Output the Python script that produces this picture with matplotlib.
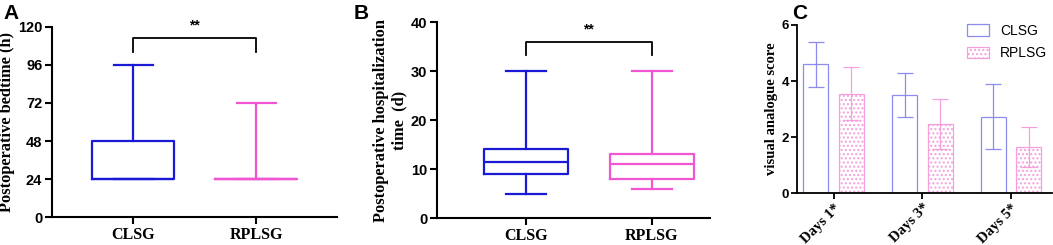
import numpy as np
import matplotlib.pyplot as plt

# ---- data ----
groups = ["CLSG", "RPLSG"]

# panel A: postoperative bedtime (h)
bed_whislo = [24, 24]
bed_q1 = [24, 24]
bed_med = [24, 24]
bed_q3 = [48, 24]
bed_whishi = [96, 72]

# panel B: postoperative hospitalization time (d)
hosp_whislo = [5, 6]
hosp_q1 = [9, 8]
hosp_med = [11.5, 11]
hosp_q3 = [14, 13]
hosp_whishi = [30, 30]

# panel C: visual analogue score
days = ["Days 1*", "Days 3*", "Days 5*"]
vas_clsg = [4.6, 3.5, 2.73]
vas_clsg_sd = [0.8, 0.78, 1.15]
vas_rplsg = [3.55, 2.47, 1.65]
vas_rplsg_sd = [0.95, 0.88, 0.72]

blue = "#1a1ad6"
pink = "#f055d2"
c_blue = "#8c8cf0"
c_pink = "#f5a0dc"

serif = ["Liberation Serif", "DejaVu Serif"]
sans = ["Liberation Sans", "DejaVu Sans"]
plt.rcParams['font.family'] = sans
plt.rcParams['hatch.linewidth'] = 1.0

fig = plt.figure(figsize=(10.53, 2.45), dpi=100)


def box_panel(ax, lo, q1, med, q3, hi, ylim, yticks, ylabel, bracket, star_y, label_x):
    stats = []
    for i in range(len(groups)):
        stats.append(dict(whislo=lo[i], q1=q1[i], med=med[i], q3=q3[i], whishi=hi[i], label=groups[i]))
    for i, col in enumerate([blue, pink]):
        ax.bxp([stats[i]], positions=[i + 1], widths=0.67, showfliers=False,
               boxprops=dict(color=col, lw=1.6),
               medianprops=dict(color=col, lw=1.6),
               whiskerprops=dict(color=col, lw=1.6),
               capprops=dict(color=col, lw=1.6),
               capwidths=0.32)
    ax.set_ylim(*ylim)
    ax.set_yticks(yticks)
    ax.set_xticks([1, 2])
    ax.set_xticklabels(groups, fontfamily=serif, fontweight='bold', fontsize=11.5)
    for lab in ax.get_yticklabels():
        lab.set_fontweight('bold')
        lab.set_fontsize(10.5)
    ax.set_ylabel(ylabel, fontfamily=serif, fontweight='bold', fontsize=11.8)
    ax.yaxis.set_label_coords(label_x, 0.5)
    for s in ['top', 'right']:
        ax.spines[s].set_visible(False)
    for s in ['left', 'bottom']:
        ax.spines[s].set_linewidth(1.5)
    ax.tick_params(width=1.5, length=5, pad=2)
    # significance bracket
    y1, y2 = bracket
    ax.plot([1, 1, 2, 2], [y2, y1, y1, y2], color='black', lw=1.3, clip_on=False)
    ax.text(1.5, star_y, "**", ha='center', va='center', fontsize=10, fontweight='bold', clip_on=False)


# panel A
axA = fig.add_axes([0.0494, 0.114, 0.271, 0.776])
box_panel(axA, bed_whislo, bed_q1, bed_med, bed_q3, bed_whishi, (0, 120),
          [0, 24, 48, 72, 96, 120], "Postoperative bedtime (h)", (113, 104), 121, -0.128)
axA.set_xlim(0.34, 2.66)

# panel B
axB = fig.add_axes([0.415, 0.110, 0.259, 0.800])
box_panel(axB, hosp_whislo, hosp_q1, hosp_med, hosp_q3, hosp_whishi, (0, 40),
          [0, 10, 20, 30, 40], "Postoperative hospitalization\ntime  (d)", (36, 33.3), 38.5, -0.11)
axB.set_xlim(0.294, 2.46)

# panel C
axC = fig.add_axes([0.757, 0.212, 0.242, 0.686])
x = np.arange(len(days))
w = 0.28
axC.bar(x - 0.2, vas_clsg, w, yerr=vas_clsg_sd, facecolor='white', edgecolor=c_blue,
        lw=0.9, ecolor=c_blue, capsize=5.5, error_kw=dict(elinewidth=0.9, capthick=0.9),
        label="CLSG")
axC.bar(x + 0.2, vas_rplsg, w, yerr=vas_rplsg_sd, facecolor='white', edgecolor=c_pink,
        lw=0.9, hatch='....', ecolor=c_pink, capsize=5.5, error_kw=dict(elinewidth=0.9, capthick=0.9),
        label="RPLSG")
axC.set_xlim(-0.41, 2.46)
axC.set_ylim(0, 6)
axC.set_yticks([0, 2, 4, 6])
axC.set_xticks(x)
axC.set_xticklabels(days, rotation=45, ha='right', rotation_mode='anchor',
                    fontfamily=serif, fontweight='bold', fontsize=10.5)
for lab in axC.get_yticklabels():
    lab.set_fontweight('bold')
    lab.set_fontsize(9.5)
axC.set_ylabel("visual analogue score", fontfamily=serif, fontweight='bold', fontsize=10.5)
axC.yaxis.set_label_coords(-0.074, 0.5)
for s in ['top', 'right']:
    axC.spines[s].set_visible(False)
for s in ['left', 'bottom']:
    axC.spines[s].set_linewidth(1.3)
axC.tick_params(width=1.3, length=4, pad=2)
axC.legend(loc='upper right', bbox_to_anchor=(1.03, 1.08), frameon=False, fontsize=10,
           handlelength=1.6, handleheight=0.9, labelspacing=0.6)

# panel letters
fig.text(0.003, 0.985, "A", fontsize=15, fontweight='bold', va='top')
fig.text(0.336, 0.985, "B", fontsize=15, fontweight='bold', va='top')
fig.text(0.752, 0.985, "C", fontsize=15, fontweight='bold', va='top')

fig.savefig("out.png", dpi=100)
